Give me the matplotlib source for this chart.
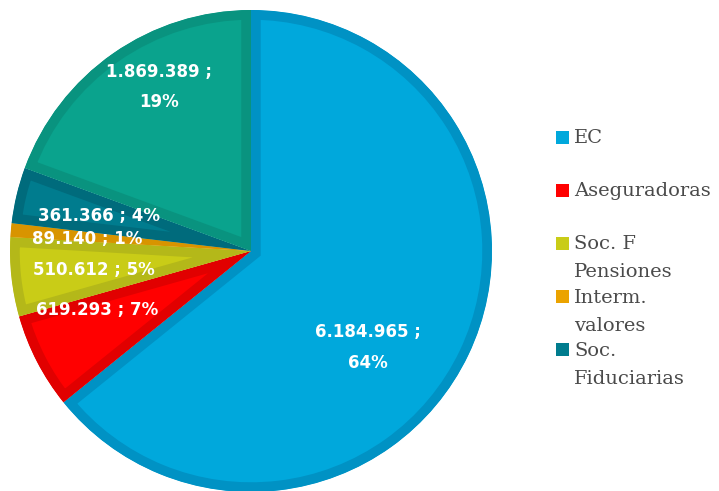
import matplotlib.pyplot as plt
from matplotlib.patches import Rectangle

# data
names = ['EC', 'Aseguradoras', 'Soc. F\nPensiones', 'Interm.\nvalores', 'Soc.\nFiduciarias', 'Otros']
values = [6184965, 619293, 510612, 89140, 361366, 1869389]
pct_labels = ['64%', '7%', '5%', '1%', '4%', '19%']
in_legend = [True, True, True, True, True, False]

# colours: fill and darker rim
fills = ['#00A8DC', '#FF0000', '#C9CC17', '#EBA300', '#007C8E', '#0AA38D']
rims = ['#0092C4', '#E10000', '#B4B819', '#D89400', '#006B7C', '#09937F']

# label positions in units of pie radius
label_pos = [(0.485, -0.40), (-0.64, -0.245), (-0.65, -0.08), (-0.68, 0.05), (-0.63, 0.145), (-0.38, 0.68)]
two_line = [True, False, False, False, False, True]


def fmt(v):
    return f'{v:,}'.replace(',', '.')


W, H = 719, 491
fig = plt.figure(figsize=(W / 100, H / 100), dpi=100)
R = 241
cx, cy = 251, 251
ax = fig.add_axes([(cx - R) / W, (H - cy - R) / H, 2 * R / W, 2 * R / H])

wedges, _ = ax.pie(values, colors=fills, startangle=90, counterclock=False, radius=1)
for w, rc in zip(wedges, rims):
    w.set_edgecolor(rc)
    w.set_linewidth(14)
    w.set_joinstyle('miter')
    # clip the thick edge to the wedge itself -> inner rim only
    w.set_clip_on(True)
    w.set_clip_path(w.get_path(), w.get_transform())

ax.set_xlim(-1, 1)
ax.set_ylim(-1, 1)
ax.set_aspect('equal')
ax.axis('off')

for v, p, (lx, ly), tl in zip(values, pct_labels, label_pos, two_line):
    txt = f'{fmt(v)} ;\n{p}' if tl else f'{fmt(v)} ; {p}'
    ax.text(lx, ly, txt, ha='center', va='center', color='white', fontsize=12,
            fontweight='bold', family='DejaVu Sans', linespacing=1.9)

# legend drawn by hand: marker on first line, two lines per entry
y0 = 137
step = 53.2
k = 0
for name, c, show in zip(names, fills, in_legend):
    if not show:
        continue
    y = y0 + step * k
    fig.patches.append(Rectangle((556 / W, 1 - (y + 6.5) / H), 13 / W, 13 / H,
                                 transform=fig.transFigure, facecolor=c, edgecolor='none'))
    fig.text(574 / W, 1 - (y - 8) / H, name, ha='left', va='top',
             fontsize=14, family='DejaVu Serif', color='#4a4a4a', linespacing=1.72)
    k += 1

fig.savefig('out.png', dpi=100)
